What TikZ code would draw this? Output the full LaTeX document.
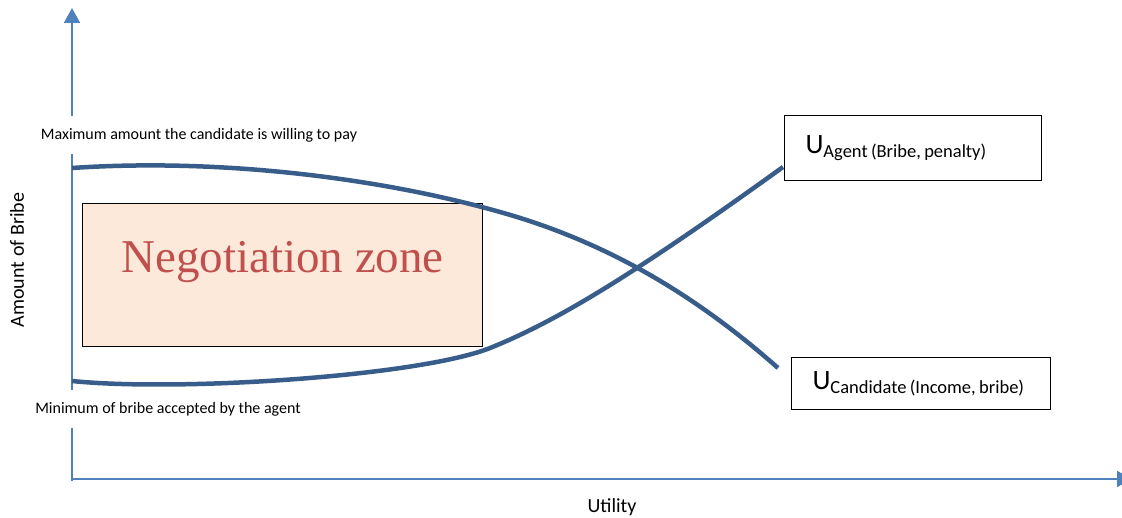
\documentclass[tikz,border=0pt]{standalone}
\usepackage{fontspec}
\setmainfont{Carlito}
\newfontfamily\zonefont{Liberation Serif}
\usepackage{xcolor}
\usetikzlibrary{arrows.meta}
\definecolor{axisblue}{RGB}{79,129,189}
\definecolor{curveblue}{RGB}{56,93,138}
\definecolor{zonefill}{RGB}{253,233,217}
\definecolor{zonered}{RGB}{192,80,77}

\tikzset{
  axis/.style={color=axisblue, line width=2pt, -{Triangle[width=16pt,length=15pt]}},
  utility/.style={color=curveblue, line width=4.5pt},
  ubox/.style={draw=black, line width=1pt, anchor=north west, align=left, inner xsep=21pt, inner ysep=0pt},
  limit/.style={fill=white, inner xsep=2pt, inner ysep=12pt, font=\fontsize{16}{16}\selectfont}
}

\begin{document}
\begin{tikzpicture}[x=1pt, y=-1pt]
\useasboundingbox (0,0) rectangle (1122,518);

% axes
\coordinate (origin) at (72,479);
\coordinate (ytop) at (72,8);
\coordinate (xend) at (1132,479);
\draw[axis] (72,481) -- (ytop);
\draw[axis] (origin) -- (xend);

\node[rotate=90, font=\fontsize{20}{20}\selectfont] (ylabel) at (17,260) {Amount of Bribe};
\node[font=\fontsize{20}{20}\selectfont] (xlabel) at (612,507) {Utility};

% limits on the bribe axis
\node[limit] (maxpay) at (199,135) {Maximum amount the candidate is willing to pay};
\node[limit] (minbribe) at (168,409) {Minimum of bribe accepted by the agent};

% negotiation zone
\node[draw=black, fill=zonefill, line width=1pt, minimum width=400pt, minimum height=143pt, anchor=north west, inner sep=0pt] (zone) at (82,203) {};
\node[text=zonered, font=\zonefont\fontsize{47}{47}\selectfont] (zonelabel) at ([yshift=13pt]zone.center) {Negotiation zone};

% utility boxes
\node[ubox, text width=215pt, minimum height=65pt] (agent) at (784,115)
  {\fontsize{28}{28}\selectfont U\raisebox{-4pt}{\fontsize{18.5}{18.5}\selectfont Agent (Bribe, penalty)}};
\node[ubox, text width=217pt, minimum height=52pt] (candidate) at (791,357)
  {\fontsize{28}{28}\selectfont U\raisebox{-4pt}{\fontsize{18.5}{18.5}\selectfont Candidate (Income, bribe)}};

% utility curves
\coordinate (candstart) at (72,168);
\coordinate (candend) at (778,368);
\coordinate (agentstart) at (72,381);
\coordinate (agentend) at (783,167);
\draw[utility] (candstart) .. controls (220,158) and (380,178) .. (500,212)
  .. controls (600,240) and (690,290) .. (candend);
\draw[utility] (agentstart) .. controls (180,392) and (420,376) .. (490,348)
  .. controls (560,320) and (640,270) .. (agentend);
\end{tikzpicture}
\end{document}
